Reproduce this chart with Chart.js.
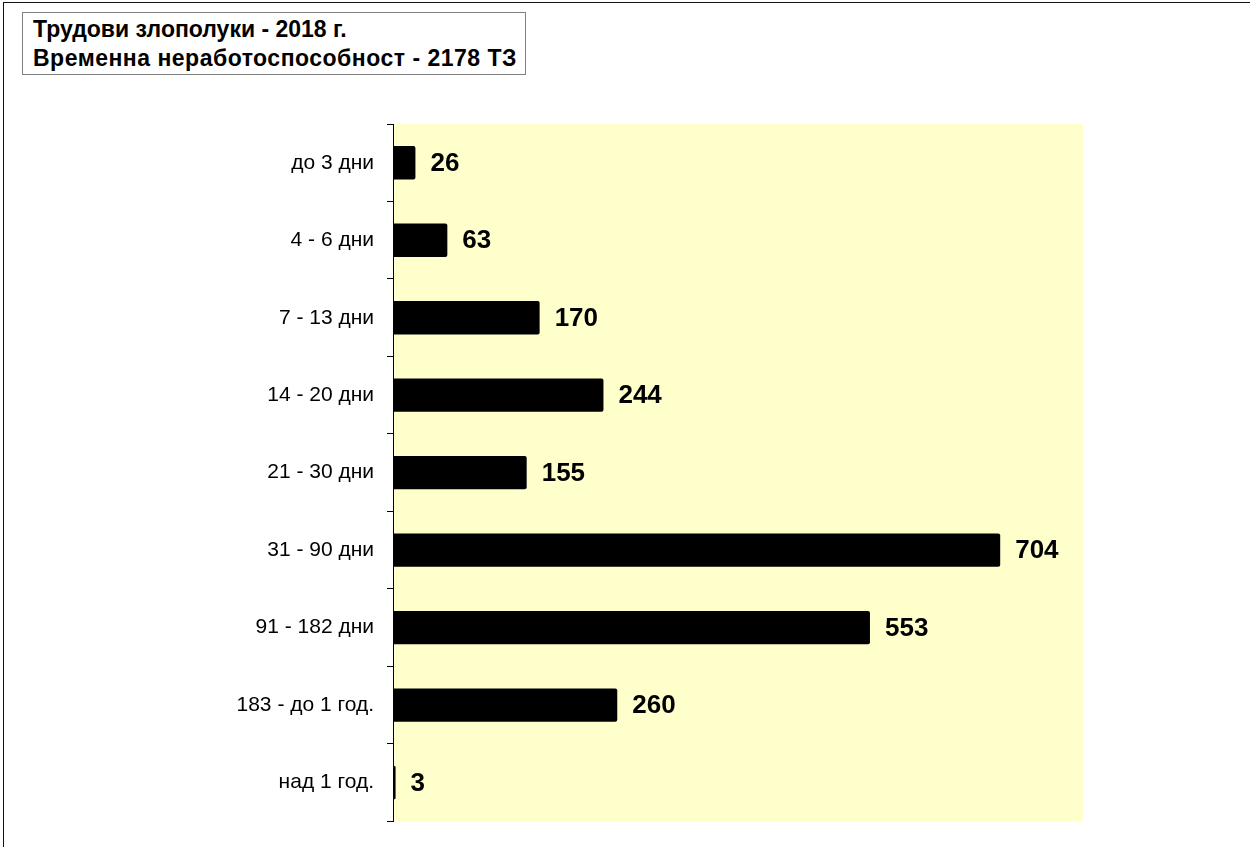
<!DOCTYPE html>
<html>
<head>
<meta charset="utf-8">
<script src="https://cdn.jsdelivr.net/npm/chart.js@4/dist/chart.umd.min.js"></script>
<style>
  html, body { margin: 0; padding: 0; background: #fff; }
  #wrap { position: relative; width: 1250px; height: 847px; overflow: hidden; }
  #frame { position: absolute; left: 3px; top: 2px; width: 1300px; height: 900px; border-left: 1px solid #111; border-top: 1px solid #111; }
  #title { position: absolute; left: 22px; top: 12px; width: 504px; height: 63px; border: 1px solid #808080; padding: 2px 0 0 10px;
           font-family: "Liberation Sans", Arial, sans-serif; font-weight: bold; font-size: 23px; line-height: 29px; color: #000; background: #fff; box-sizing: border-box; white-space: nowrap; }
  #title .l2 { letter-spacing: 0.5px; }
  canvas { position: absolute; left: 0; top: 0; }
</style>
</head>
<body>
<div id="wrap">
  <canvas id="c" width="1250" height="847"></canvas>
  <div id="frame"></div>
  <div id="title">Трудови злополуки - 2018 г.<br><span class="l2">Временна неработоспособност - 2178 ТЗ</span></div>
</div>
<script>
const categories = ["до 3 дни", "4 - 6 дни", "7 - 13 дни", "14 - 20 дни", "21 - 30 дни", "31 - 90 дни", "91 - 182 дни", "183 - до 1 год.", "над 1 год."];
const values = [26, 63, 170, 244, 155, 704, 553, 260, 3];
const axisMax = 800;

const plotBg = {
  id: 'plotBg',
  beforeDraw(chart) {
    const {ctx, chartArea: a} = chart;
    ctx.save();
    ctx.fillStyle = '#FFFFCC';
    ctx.fillRect(a.left, a.top, a.right - a.left, a.bottom - a.top);
    ctx.restore();
  }
};
const valueLabels = {
  id: 'valueLabels',
  afterDatasetsDraw(chart) {
    const {ctx} = chart;
    const meta = chart.getDatasetMeta(0);
    ctx.save();
    ctx.font = 'bold 26px "Liberation Sans", Arial, sans-serif';
    ctx.fillStyle = '#000';
    ctx.textBaseline = 'middle';
    ctx.textAlign = 'left';
    meta.data.forEach((bar, i) => {
      ctx.fillText(String(values[i]), bar.x + 15, bar.y + 1);
    });
    ctx.restore();
  }
};

new Chart(document.getElementById('c'), {
  type: 'bar',
  data: {
    labels: categories,
    datasets: [{
      data: values,
      backgroundColor: '#000',
      borderRadius: 2,
      borderSkipped: 'start',
      barPercentage: 0.43,
      categoryPercentage: 1
    }]
  },
  options: {
    indexAxis: 'y',
    responsive: false,
    animation: false,
    devicePixelRatio: 1,
    layout: { padding: { left: 0, right: 167, top: 124, bottom: 3 } },
    plugins: { legend: { display: false }, tooltip: { enabled: false }, title: { display: false } },
    scales: {
      x: { display: false, min: 0, max: axisMax },
      y: {
        afterFit(scale) { scale.width = 393; },
        grid: { drawOnChartArea: false, drawTicks: true, tickLength: 6, color: '#000', offset: true },
        border: { display: true, color: '#000', width: 1 },
        ticks: { color: '#000', padding: 13, font: { family: '"Liberation Sans", Arial, sans-serif', size: 21 } }
      }
    }
  },
  plugins: [plotBg, valueLabels]
});
</script>
</body>
</html>
